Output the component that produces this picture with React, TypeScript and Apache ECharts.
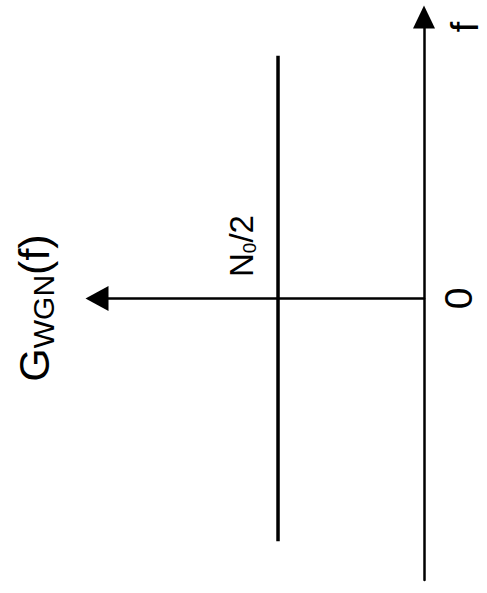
import React, { useEffect, useRef } from "react";
import * as echarts from "echarts";

// Frequency axis (vertical in the picture), PSD level and band
const fRange = [-1.16, 1.16];
const gRange = [0, 2.24];
const psdBand = [-1, 1];
const psdLevel = [1, 1];
const fTickLabels = ["0"];
const labelTexts = ["G", "WGN", "(f)", "N", "0", "/2", "f"];

const FONT = "'Liberation Sans', Arial, sans-serif";

export default function App() {
  const ref = useRef<HTMLDivElement>(null);
  useEffect(() => {
    if (!ref.current) return;
    const chart = echarts.init(ref.current, null, { renderer: "svg" });
    const psdData = psdBand.map((f, i) => [psdLevel[i], f]);
    chart.setOption({
      animation: false,
      backgroundColor: "#fff",
      grid: { left: 97, right: 63, top: 17, bottom: 13 },
      xAxis: {
        type: "value",
        inverse: true,
        min: gRange[0],
        max: gRange[1],
        axisLine: {
          show: true,
          onZero: true,
          symbol: ["triangle", "none"],
          symbolSize: [25, 23],
          lineStyle: { color: "#000", width: 2.5 },
        },
        axisTick: { show: false },
        axisLabel: { show: false },
        splitLine: { show: false },
      },
      yAxis: {
        type: "value",
        position: "right",
        min: fRange[0],
        max: fRange[1],
        interval: fRange[1],
        axisLine: {
          show: true,
          onZero: true,
          symbol: ["none", "triangle"],
          symbolSize: [22, 23],
          lineStyle: { color: "#000", width: 2.5 },
        },
        axisTick: { show: false },
        splitLine: { show: false },
        axisLabel: {
          show: true,
          rotate: 90,
          margin: 15,
          fontSize: 39,
          fontFamily: FONT,
          color: "#000",
          formatter: (v: number) => (Math.abs(v) < 1e-9 ? fTickLabels[0] : ""),
        },
      },
      series: [
        {
          type: "line",
          data: psdData,
          symbol: "none",
          lineStyle: { color: "#000", width: 3.5 },
        },
      ],
      graphic: [
        {
          type: "text",
          x: 34,
          y: 308,
          rotation: Math.PI / 2,
          style: {
            text: `{a|${labelTexts[0]}}{b|${labelTexts[1]}}{a|${labelTexts[2]}}`,
            align: "center",
            verticalAlign: "middle",
            rich: {
              a: { fontSize: 43, fontFamily: FONT, fill: "#000", lineHeight: 48 },
              b: { fontSize: 30, fontFamily: FONT, fill: "#000", lineHeight: 40, verticalAlign: "bottom" },
            },
          },
        },
        {
          type: "text",
          x: 241,
          y: 246,
          rotation: Math.PI / 2,
          style: {
            text: `{a|${labelTexts[3]}}{b|${labelTexts[4]}}{a|${labelTexts[5]}}`,
            align: "center",
            verticalAlign: "middle",
            rich: {
              a: { fontSize: 33, fontFamily: FONT, fill: "#000", lineHeight: 36 },
              b: { fontSize: 19, fontFamily: FONT, fill: "#000", lineHeight: 26, verticalAlign: "bottom" },
            },
          },
        },
        {
          type: "text",
          x: 465,
          y: 27,
          rotation: Math.PI / 2,
          style: {
            text: labelTexts[6],
            align: "center",
            verticalAlign: "middle",
            fontSize: 38,
            fontFamily: FONT,
            fill: "#000",
          },
        },
      ],
    });
    return () => chart.dispose();
  }, []);
  return (
    <div
      ref={ref}
      style={{ position: "absolute", left: 0, top: 0, width: 487, height: 593, background: "#fff" }}
    />
  );
}
